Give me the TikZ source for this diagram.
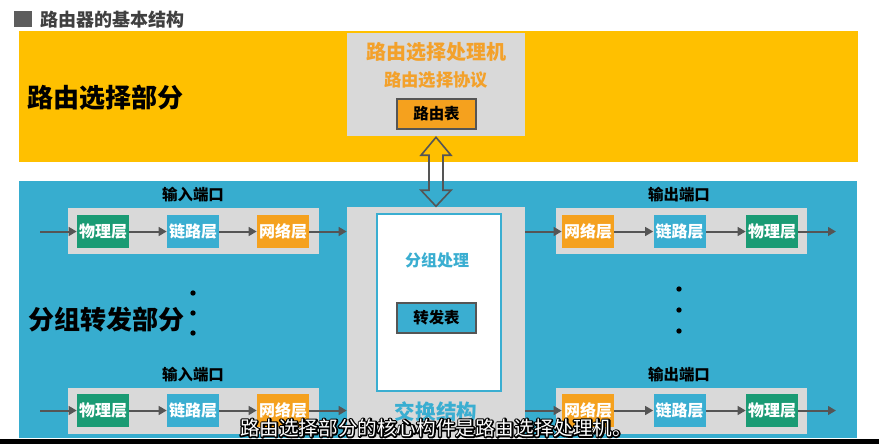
\documentclass[tikz,border=0pt]{standalone}
\usepackage{fontspec}
\setmainfont{Noto Sans CJK SC}
\usetikzlibrary{arrows.meta}
\definecolor{ybg}{HTML}{FFC000}
\definecolor{bbg}{HTML}{37ADCF}
\definecolor{gbox}{HTML}{D9D9D9}
\definecolor{grn}{HTML}{1A9B74}
\definecolor{org}{HTML}{F5A11E}
\definecolor{arr}{HTML}{555555}
\definecolor{ttl}{HTML}{F3A12B}
\definecolor{blu}{HTML}{3AAED1}
\definecolor{ttlgray}{HTML}{404040}
% outlined text: stroke-only copy underneath (#1 stroke rgb, #3 width), filled copy (#2) on top
\newcommand\outlinetext[4]{{\setbox0\hbox{#4}%
  \rlap{\special{pdf:literal direct q 1 Tr #3 w #1 RG 1 j}\copy0\special{pdf:literal direct Q}}%
  {\color{#2}\box0}}}
\tikzset{
  layer/.style={minimum width=39pt, minimum height=24.75pt, inner sep=0pt, text=white,
    font=\bfseries\fontsize{12}{12}\selectfont},
  phy/.style={layer, fill=grn},
  lnk/.style={layer, fill=blu},
  net/.style={layer, fill=org},
  portbox/.style={fill=gbox, minimum width=188.25pt, minimum height=34.5pt, inner sep=0pt},
  flow/.style={draw=arr, line width=1.5pt, -{Triangle[length=6pt,width=6.5pt]}},
  portlbl/.style={font=\bfseries\fontsize{11.6}{12}\selectfont, text=black, inner sep=0pt},
  biglbl/.style={font=\bfseries\fontsize{19.5}{20}\selectfont, text=black, inner sep=0pt, anchor=west},
  tablebox/.style={draw=arr, line width=1.3pt, minimum width=59.25pt, minimum height=22.5pt,
    inner sep=0pt, font=\bfseries\fontsize{11.6}{12}\selectfont, text=black},
  dotmark/.style={fill=black, circle, inner sep=0pt, minimum size=4pt},
}
\begin{document}
\begin{tikzpicture}[x=0.75pt,y=-0.75pt]
\useasboundingbox (0,0) rectangle (879,444);
\fill[white] (0,0) rectangle (879,444);
% title
\fill[ttlgray!85] (14,11) rectangle (32,27);
\node[anchor=west, inner sep=0pt, text=ttlgray, font=\bfseries\fontsize{13.5}{14}\selectfont] (title) at (40,20) {路由器的基本结构};
% bands
\fill[ybg] (19,31) rectangle (858,162);
\fill[bbg] (19,181) rectangle (857,438);
% routing part
\node[biglbl] (rpart) at (27,98) {路由选择部分};
\node[fill=gbox, minimum width=133.5pt, minimum height=77.25pt, inner sep=0pt] (rproc) at (436,84.5) {};
\node[inner sep=0pt, text=ttl, font=\bfseries\fontsize{15}{15}\selectfont] (rproct) at (436,52) {路由选择处理机};
\node[inner sep=0pt, text=ttl, font=\bfseries\fontsize{13}{13}\selectfont] (rprot) at (436,80) {路由选择协议};
\node[tablebox, fill=org] (rtable) at (436.5,114) {路由表};
% switching fabric
\node[fill=gbox, minimum width=133.5pt, minimum height=173.25pt, inner sep=0pt] (fabric) at (436,322.5) {};
\node[fill=white, draw=blu, line width=1.5pt, minimum width=93pt, minimum height=132.75pt, inner sep=0pt] (proc) at (439,302.5) {};
\node[inner sep=0pt, text=blu, font=\bfseries\fontsize{12}{12}\selectfont] (proct) at (437,260) {分组处理};
\node[tablebox, fill=blu] (ftable) at (436.5,318) {转发表};
\node[inner sep=0pt, text=blu, font=\bfseries\fontsize{15.4}{16}\selectfont] (fabt) at (436,412) {交换结构};
% double arrow between routing processor and fabric
\draw[arr, line width=1.2pt, line join=miter]
  (rproc.south) ++(0,1) -- ++(15,18) -- ++(-8,0) -- ++(0,35) -- ++(8,0)
  -- ++(-15,16) -- ++(-15,-16) -- ++(8,0) -- ++(0,-35) -- ++(-8,0) -- cycle;
% forwarding part label and dots
\node[biglbl] (fpart) at (28,320) {分组转发部分};
\node[dotmark] (dl1) at (193,293) {};
\node[dotmark] (dl2) at (193,313) {};
\node[dotmark] (dl3) at (193,333) {};
\node[dotmark] (dr1) at (679,289) {};
\node[dotmark] (dr2) at (679,310) {};
\node[dotmark] (dr3) at (679,331) {};
% ports
\foreach \r/\y/\ly/\py in {a/231.5/195/231, b/410.5/375/410.5}{
  \node[portlbl] (inl\r) at (193,\ly) {输入端口};
  \node[portbox] (inp\r) at (193.5,\py) {};
  \node[phy] (iphy\r) at (103,\y) {物理层};
  \node[lnk] (ilnk\r) at (193,\y) {链路层};
  \node[net] (inet\r) at (283,\y) {网络层};
  \coordinate (in\r) at (40,\y);
  \draw[flow] (in\r) -- (iphy\r);
  \draw[flow] (iphy\r) -- (ilnk\r);
  \draw[flow] (ilnk\r) -- (inet\r);
  \draw[flow] (inet\r) -- (inet\r -| fabric.west);
  \node[portlbl] (outl\r) at (679,\ly) {输出端口};
  \node[portbox] (outp\r) at (681,\py) {};
  \node[net] (onet\r) at (588,\y) {网络层};
  \node[lnk] (olnk\r) at (679.5,\y) {链路层};
  \node[phy] (ophy\r) at (772,\y) {物理层};
  \coordinate (out\r) at (836,\y);
  \draw[flow] (onet\r -| fabric.east) -- (onet\r);
  \draw[flow] (onet\r) -- (olnk\r);
  \draw[flow] (olnk\r) -- (ophy\r);
  \draw[flow] (ophy\r) -- (out\r);
}
% bottom strip and subtitle
\fill[black] (0,439) rectangle (879,444);
\node[inner sep=0pt, font=\fontsize{14.7}{15}\selectfont] (subt) at (436,428) {\outlinetext{0 0 0}{white}{2.2}{路由选择部分的核心构件是路由选择处理机。}};
\end{tikzpicture}
\end{document}
